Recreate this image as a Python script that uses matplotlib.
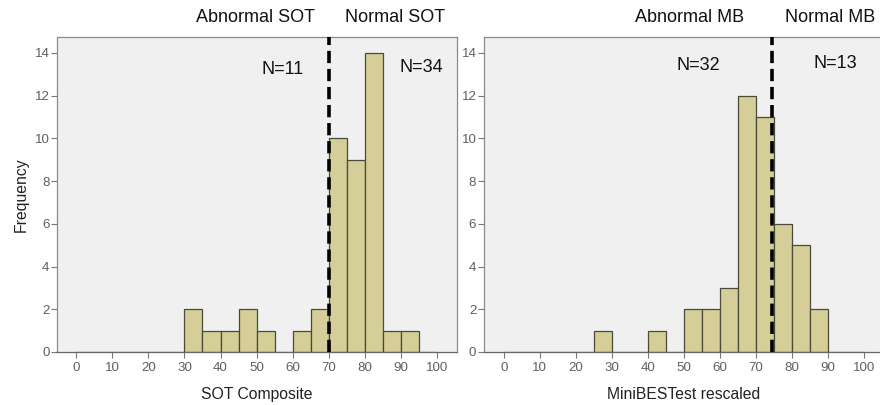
import matplotlib
matplotlib.use("Agg")
import matplotlib.pyplot as plt
import numpy as np

plt.rcParams["font.family"] = ["Liberation Sans", "DejaVu Sans"]

# histogram bins (width 5) and counts
bin_edges = np.arange(0, 105, 5)
sot_counts = [0, 0, 0, 0, 0, 0, 2, 1, 1, 2, 1, 0, 1, 2, 10, 9, 14, 1, 1, 0]
mb_counts = [0, 0, 0, 0, 0, 1, 0, 0, 1, 0, 2, 2, 3, 12, 11, 6, 5, 2, 0, 0]

sot_cut = 70
mb_cut = 74.5
x_ticks = list(range(0, 101, 10))
y_ticks = list(range(0, 15, 2))

BAR = "#d5ce98"
EDGE = "#4a4a3a"
BG = "#f0f0f0"
GRAY = "#606060"

fig = plt.figure(figsize=(8.8, 4.05), dpi=100)
fig.patch.set_facecolor("white")

ax1 = fig.add_axes([0.0648, 0.1309, 0.4545, 0.7778])
ax2 = fig.add_axes([0.55, 0.1309, 0.4545, 0.7778])


def draw(ax, counts, cut, xlabel, xlim):
    ax.set_facecolor(BG)
    ax.bar(bin_edges[:-1], counts, width=5, align="edge", color=BAR,
           edgecolor=EDGE, linewidth=0.9, zorder=2)
    ax.axvline(cut, color="black", linestyle=(0, (3.4, 1.6)), linewidth=2.6, zorder=3)
    ax.set_xlim(*xlim)
    ax.set_ylim(0, 14.75)
    ax.set_xticks(x_ticks)
    ax.set_yticks(y_ticks)
    ax.tick_params(axis="both", colors="#777777", labelcolor=GRAY, labelsize=9.6,
                   length=4, width=0.8, direction="out")
    ax.tick_params(axis="y", pad=1.5)
    for side in ax.spines.values():
        side.set_color("#8a8a8a")
        side.set_linewidth(0.9)
    ax.spines["bottom"].set_color("#666666")
    ax.set_xlabel(xlabel, fontsize=11.3, color="#222222", labelpad=9)


draw(ax1, sot_counts, sot_cut, "SOT Composite", (-5.3, 105.5))
draw(ax2, mb_counts, mb_cut, "MiniBESTest rescaled", (-5.5, 105.5))
ax2.spines["right"].set_visible(False)

fig.text(21 / 880, 1 - 195 / 405, "Frequency", fontsize=11.3, color="#222222",
         rotation=90, ha="center", va="center")

txt = dict(fontsize=13, color="#111111", ha="center", va="center")
fig.text(255 / 880, 1 - 17 / 405, "Abnormal SOT", **txt)
fig.text(395 / 880, 1 - 17 / 405, "Normal SOT", **txt)
fig.text(690 / 880, 1 - 17 / 405, "Abnormal MB", **txt)
fig.text(830 / 880, 1 - 17 / 405, "Normal MB", **txt)
fig.text(283 / 880, 1 - 70 / 405, "N=11", **txt)
fig.text(421 / 880, 1 - 68 / 405, "N=34", **txt)
fig.text(698 / 880, 1 - 65 / 405, "N=32", **txt)
fig.text(835 / 880, 1 - 63 / 405, "N=13", **txt)

fig.savefig("out.png", dpi=100)
